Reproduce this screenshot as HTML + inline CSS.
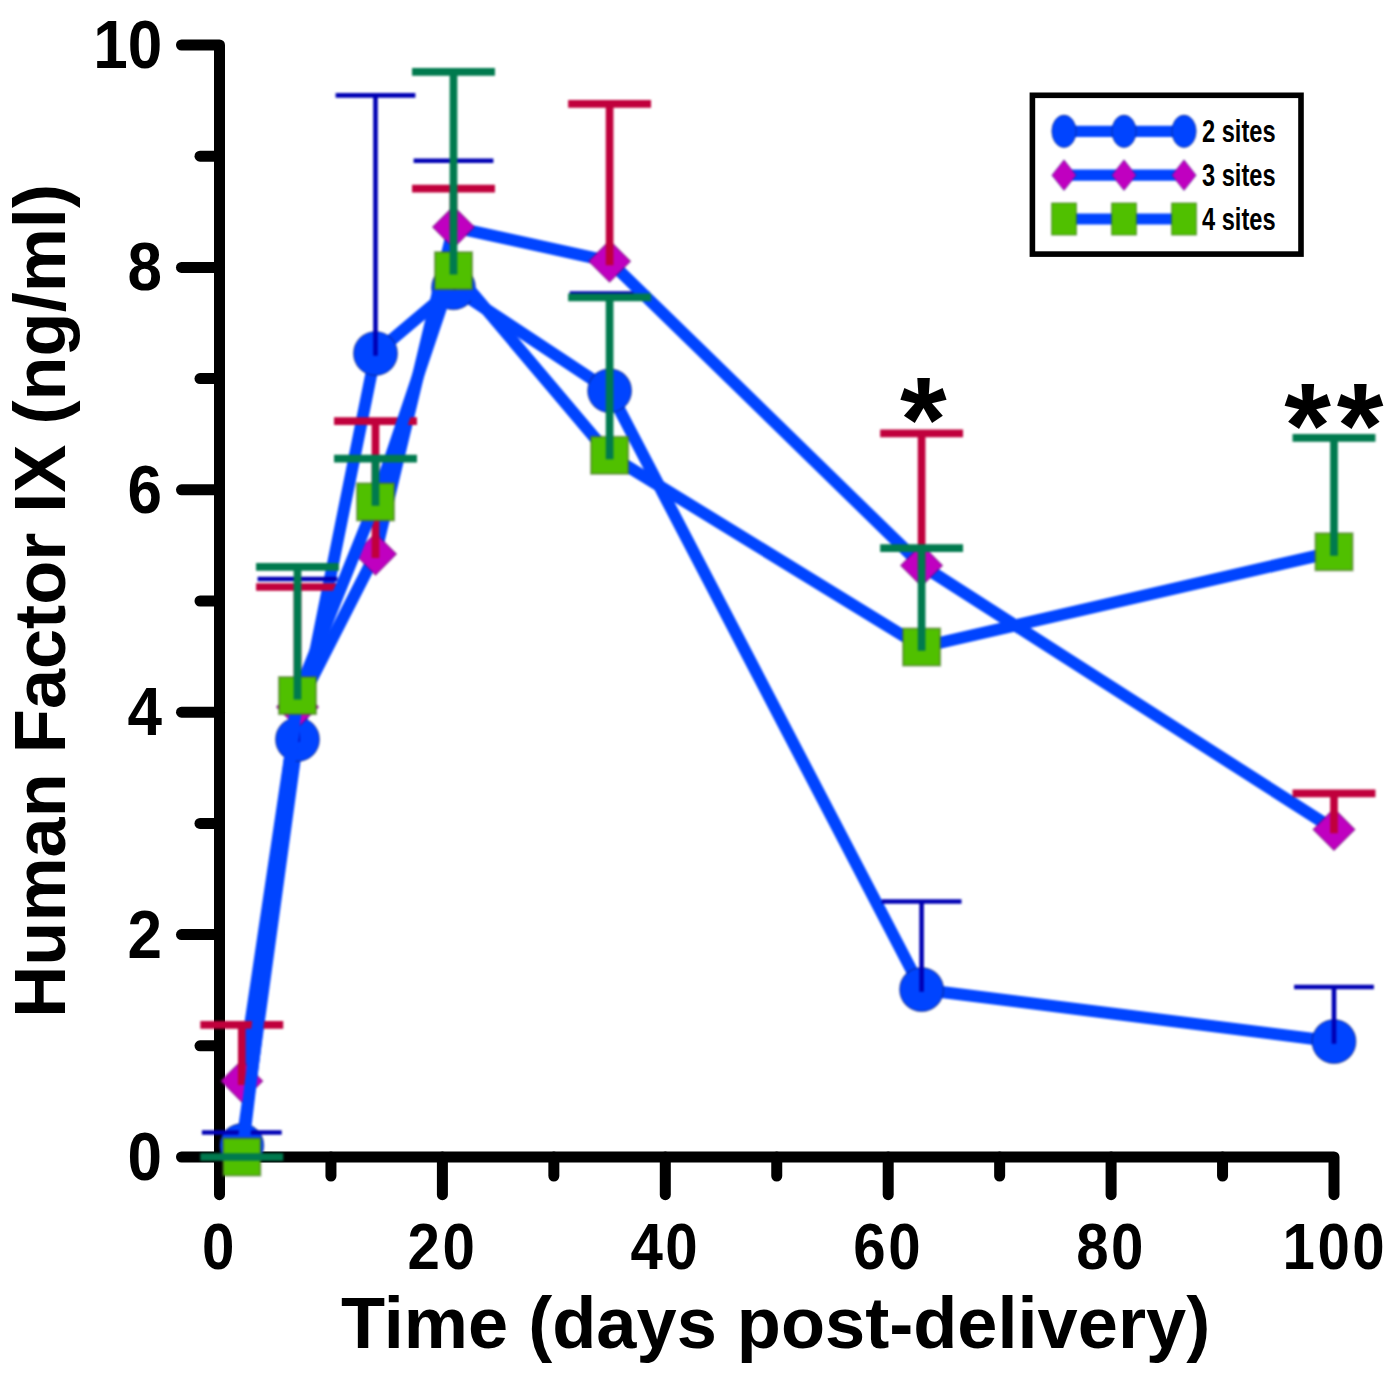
<!DOCTYPE html>
<html><head><meta charset="utf-8"><title>Human Factor IX</title>
<style>html,body{margin:0;padding:0;background:#fff}body{width:1391px;height:1382px;overflow:hidden}svg{display:block}.bl{filter:blur(0.8px)}text{font-family:"Liberation Sans",sans-serif;font-weight:bold;fill:#000}</style>
</head><body>
<svg width="1391" height="1382" viewBox="0 0 1391 1382">
<rect width="1391" height="1382" fill="#fff"/>
<g stroke="#000" stroke-width="11.0" stroke-linecap="round" stroke-linejoin="round" fill="none">
<path d="M181.5 45.0 H219.5 V1194.7"/>
<path d="M181.5 1157.0 H1334.0 V1194.7"/>
<path d="M200 1045.80 H219.5"/>
<path d="M181.5 934.60 H219.5"/>
<path d="M200 823.40 H219.5"/>
<path d="M181.5 712.20 H219.5"/>
<path d="M200 601.00 H219.5"/>
<path d="M181.5 489.80 H219.5"/>
<path d="M200 378.60 H219.5"/>
<path d="M181.5 267.40 H219.5"/>
<path d="M200 156.20 H219.5"/>
<path d="M330.95 1157.0 V1176"/>
<path d="M442.40 1157.0 V1194.7"/>
<path d="M553.85 1157.0 V1176"/>
<path d="M665.30 1157.0 V1194.7"/>
<path d="M776.75 1157.0 V1176"/>
<path d="M888.20 1157.0 V1194.7"/>
<path d="M999.65 1157.0 V1176"/>
<path d="M1111.10 1157.0 V1194.7"/>
<path d="M1222.55 1157.0 V1176"/>
</g>
<g class="bl">
<polyline fill="none" stroke="#0044ff" stroke-width="12.0" stroke-linejoin="round" stroke-linecap="round" points="241.8,1145.5 297.5,739.4 375.5,353.4 453.5,287.7 609.6,390.7 921.6,989.5 1334.0,1041.5"/>
<circle cx="241.8" cy="1145.5" r="21.9" fill="#0044ff" stroke="rgba(10,25,110,0.55)" stroke-width="1.2"/>
<circle cx="297.5" cy="739.4" r="21.9" fill="#0044ff" stroke="rgba(10,25,110,0.55)" stroke-width="1.2"/>
<circle cx="375.5" cy="353.4" r="21.9" fill="#0044ff" stroke="rgba(10,25,110,0.55)" stroke-width="1.2"/>
<circle cx="453.5" cy="287.7" r="21.9" fill="#0044ff" stroke="rgba(10,25,110,0.55)" stroke-width="1.2"/>
<circle cx="609.6" cy="390.7" r="21.9" fill="#0044ff" stroke="rgba(10,25,110,0.55)" stroke-width="1.2"/>
<circle cx="921.6" cy="989.5" r="21.9" fill="#0044ff" stroke="rgba(10,25,110,0.55)" stroke-width="1.2"/>
<circle cx="1334.0" cy="1041.5" r="21.9" fill="#0044ff" stroke="rgba(10,25,110,0.55)" stroke-width="1.2"/>
<g stroke="#0000b4" stroke-width="4.6" stroke-linecap="square" fill="none">
<path d="M241.8 1145.5V1132.5M204.2 1132.5H279.4"/>
<path d="M297.5 739.4V579.0M259.9 579.0H335.1"/>
<path d="M375.5 353.4V95.4M337.9 95.4H413.1"/>
<path d="M453.5 287.7V160.8M415.9 160.8H491.1"/>
<path d="M609.6 390.7V293.5M572.0 293.5H647.2"/>
<path d="M921.6 989.5V901.5M884.0 901.5H959.2"/>
<path d="M1334.0 1041.5V987.0M1296.4 987.0H1371.6"/>
</g>
<polyline fill="none" stroke="#0044ff" stroke-width="12.0" stroke-linejoin="round" stroke-linecap="round" points="241.8,1081.1 297.5,706.9 375.5,554.1 453.5,227.1 609.6,261.3 921.6,565.4 1334.0,829.4"/>
<path d="M221.0 1081.1L241.8 1060.3L262.6 1081.1L241.8 1101.9Z" fill="#c000c0" stroke="rgba(110,0,120,0.55)" stroke-width="1.4"/>
<path d="M276.7 706.9L297.5 686.1L318.3 706.9L297.5 727.7Z" fill="#c000c0" stroke="rgba(110,0,120,0.55)" stroke-width="1.4"/>
<path d="M354.7 554.1L375.5 533.3L396.3 554.1L375.5 574.9Z" fill="#c000c0" stroke="rgba(110,0,120,0.55)" stroke-width="1.4"/>
<path d="M432.7 227.1L453.5 206.3L474.3 227.1L453.5 247.9Z" fill="#c000c0" stroke="rgba(110,0,120,0.55)" stroke-width="1.4"/>
<path d="M588.8 261.3L609.6 240.5L630.4 261.3L609.6 282.1Z" fill="#c000c0" stroke="rgba(110,0,120,0.55)" stroke-width="1.4"/>
<path d="M900.8 565.4L921.6 544.6L942.4 565.4L921.6 586.2Z" fill="#c000c0" stroke="rgba(110,0,120,0.55)" stroke-width="1.4"/>
<path d="M1313.2 829.4L1334.0 808.6L1354.8 829.4L1334.0 850.2Z" fill="#c000c0" stroke="rgba(110,0,120,0.55)" stroke-width="1.4"/>
<g stroke="#c0003c" stroke-width="7.7" stroke-linecap="square" fill="none">
<path d="M241.8 1081.1V1024.9M204.2 1024.9H279.4"/>
<path d="M297.5 706.9V587.0M259.9 587.0H335.1"/>
<path d="M375.5 554.1V421.2M337.9 421.2H413.1"/>
<path d="M453.5 227.1V188.7M415.9 188.7H491.1"/>
<path d="M609.6 261.3V103.8M572.0 103.8H647.2"/>
<path d="M921.6 565.4V433.3M884.0 433.3H959.2"/>
<path d="M1334.0 829.4V793.4M1296.4 793.4H1371.6"/>
</g>
<polyline fill="none" stroke="#0044ff" stroke-width="12.0" stroke-linejoin="round" stroke-linecap="round" points="241.8,1157.0 297.5,695.6 375.5,501.9 453.5,270.7 609.6,455.3 921.6,647.0 1334.0,551.8"/>
<rect x="223.2" y="1138.4" width="37.2" height="37.2" fill="#50c000" stroke="rgba(70,110,40,0.55)" stroke-width="2"/>
<rect x="278.9" y="677.0" width="37.2" height="37.2" fill="#50c000" stroke="rgba(70,110,40,0.55)" stroke-width="2"/>
<rect x="356.9" y="483.3" width="37.2" height="37.2" fill="#50c000" stroke="rgba(70,110,40,0.55)" stroke-width="2"/>
<rect x="434.9" y="252.1" width="37.2" height="37.2" fill="#50c000" stroke="rgba(70,110,40,0.55)" stroke-width="2"/>
<rect x="591.0" y="436.7" width="37.2" height="37.2" fill="#50c000" stroke="rgba(70,110,40,0.55)" stroke-width="2"/>
<rect x="903.0" y="628.4" width="37.2" height="37.2" fill="#50c000" stroke="rgba(70,110,40,0.55)" stroke-width="2"/>
<rect x="1315.4" y="533.2" width="37.2" height="37.2" fill="#50c000" stroke="rgba(70,110,40,0.55)" stroke-width="2"/>
<g stroke="#007a4e" stroke-width="7.7" stroke-linecap="square" fill="none">
<path d="M241.8 1157.0V1157.0M204.2 1157.0H279.4"/>
<path d="M297.5 695.6V566.8M259.9 566.8H335.1"/>
<path d="M375.5 501.9V458.7M337.9 458.7H413.1"/>
<path d="M453.5 270.7V71.8M415.9 71.8H491.1"/>
<path d="M609.6 455.3V297.3M572.0 297.3H647.2"/>
<path d="M921.6 647.0V548.2M884.0 548.2H959.2"/>
<path d="M1334.0 551.8V437.8M1296.4 437.8H1371.6"/>
</g>
</g>
<text x="923.3" y="461" text-anchor="middle" font-size="120">*</text>
<text x="1307.6" y="467" text-anchor="middle" font-size="120">*</text>
<text x="1360.2" y="467" text-anchor="middle" font-size="120">*</text>
<rect x="1032.4" y="95.3" width="268.6" height="158.8" fill="#fff" stroke="#000" stroke-width="5.6"/>
<g class="bl">
<path d="M1064 131.3H1184" stroke="#0044ff" stroke-width="11.2"/>
<ellipse cx="1064" cy="131.3" rx="12.2" ry="16.2" fill="#0044ff" stroke="rgba(10,25,110,0.55)" stroke-width="1"/>
<ellipse cx="1124" cy="131.3" rx="12.2" ry="16.2" fill="#0044ff" stroke="rgba(10,25,110,0.55)" stroke-width="1"/>
<ellipse cx="1184" cy="131.3" rx="12.2" ry="16.2" fill="#0044ff" stroke="rgba(10,25,110,0.55)" stroke-width="1"/>
<path d="M1064 175.2H1184" stroke="#0044ff" stroke-width="11.2"/>
<path d="M1051.8 175.2L1064 159.79999999999998L1076.2 175.2L1064 190.6Z" fill="#c000c0" stroke="rgba(10,25,110,0.55)" stroke-width="0.8"/>
<path d="M1111.8 175.2L1124 159.79999999999998L1136.2 175.2L1124 190.6Z" fill="#c000c0" stroke="rgba(10,25,110,0.55)" stroke-width="0.8"/>
<path d="M1171.8 175.2L1184 159.79999999999998L1196.2 175.2L1184 190.6Z" fill="#c000c0" stroke="rgba(10,25,110,0.55)" stroke-width="0.8"/>
<path d="M1064 219.0H1184" stroke="#0044ff" stroke-width="11.2"/>
<rect x="1051.6" y="203.0" width="24.8" height="32.0" fill="#50c000" stroke="rgba(40,90,20,0.6)" stroke-width="1"/>
<rect x="1111.6" y="203.0" width="24.8" height="32.0" fill="#50c000" stroke="rgba(40,90,20,0.6)" stroke-width="1"/>
<rect x="1171.6" y="203.0" width="24.8" height="32.0" fill="#50c000" stroke="rgba(40,90,20,0.6)" stroke-width="1"/>
</g>
<text transform="translate(1202 142.20000000000002) scale(0.775 1)" font-size="30.5">2 sites</text>
<text transform="translate(1202 186.1) scale(0.775 1)" font-size="30.5">3 sites</text>
<text transform="translate(1202 229.9) scale(0.775 1)" font-size="30.5">4 sites</text>
<text transform="translate(161.9 1180.0) scale(0.911 1)" text-anchor="end" font-size="68.1">0</text>
<text transform="translate(161.9 957.6) scale(0.911 1)" text-anchor="end" font-size="68.1">2</text>
<text transform="translate(161.9 735.2) scale(0.911 1)" text-anchor="end" font-size="68.1">4</text>
<text transform="translate(161.9 512.8) scale(0.911 1)" text-anchor="end" font-size="68.1">6</text>
<text transform="translate(161.9 290.4) scale(0.911 1)" text-anchor="end" font-size="68.1">8</text>
<text transform="translate(162.3 68.0) scale(0.911 1)" text-anchor="end" font-size="68.1">10</text>
<text transform="translate(202.05 1268.5) scale(0.91 1)" style="letter-spacing:2.76px" font-size="64.0">0</text>
<text transform="translate(407.50 1268.5) scale(0.91 1)" style="letter-spacing:2.76px" font-size="64.0">20</text>
<text transform="translate(630.40 1268.5) scale(0.91 1)" style="letter-spacing:2.76px" font-size="64.0">40</text>
<text transform="translate(853.30 1268.5) scale(0.91 1)" style="letter-spacing:2.76px" font-size="64.0">60</text>
<text transform="translate(1076.20 1268.5) scale(0.91 1)" style="letter-spacing:2.76px" font-size="64.0">80</text>
<text transform="translate(1282.50 1268.5) scale(0.91 1)" style="letter-spacing:2.76px" font-size="64.0">100</text>
<text x="775.6" y="1347.9" text-anchor="middle" font-size="72.2">Time (days post-delivery)</text>
<text transform="translate(65.1 600.9) rotate(-90)" text-anchor="middle" font-size="72.15">Human Factor IX (ng/ml)</text>
</svg></body></html>
